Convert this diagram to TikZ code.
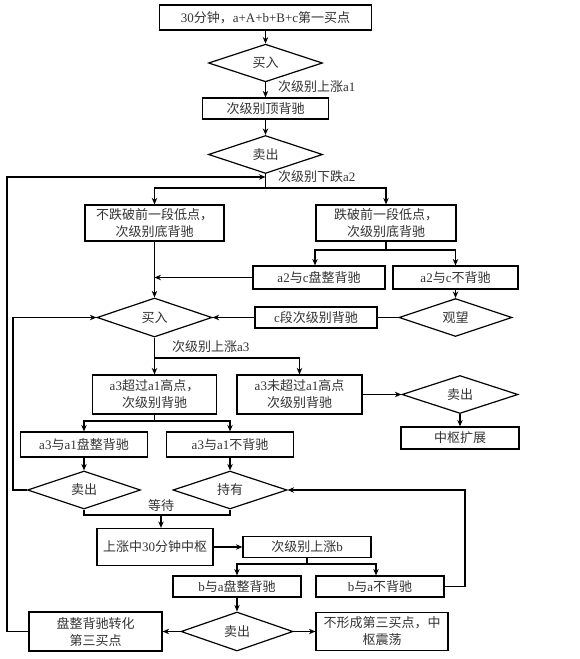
\documentclass[tikz,border=0pt]{standalone}
\usepackage{fontspec}
\setmainfont{Liberation Serif}
\newfontfamily\cjk{Noto Sans CJK SC}
\usetikzlibrary{shapes.geometric,arrows.meta}
\newcommand\zh[1]{{\cjk #1}}
\definecolor{txt}{gray}{0.2}
\begin{document}
\begin{tikzpicture}[x=1pt,y=-1pt,
  fnt/.style={font=\fontsize{13}{17}\selectfont},
  bx/.style={draw=black, line width=1.2pt, inner sep=1pt, align=center, text=txt, fnt},
  dm/.style={diamond, draw=black, line width=1.2pt, inner sep=0pt, text=txt, fnt},
  lab/.style={inner sep=0pt, text=txt, fnt},
  ar/.style={-{Stealth[length=6.5pt,width=5.5pt]}, line width=1.2pt},
  ln/.style={line width=1.2pt}]
\useasboundingbox (0,0) rectangle (580,659);
\fill[white] (0,0) rectangle (580,659);

\node[bx,minimum width=212pt,minimum height=25pt] (top) at (265.5,17.5) {30\zh{分钟，}a+A+b+B+c\zh{第一买点}};
\node[dm,minimum width=114pt,minimum height=30pt] (d1) at (265.5,63) {\zh{买入}};
\node[lab,anchor=west] (l1) at (278,87) {\zh{次级别上涨}a1};
\node[bx,minimum width=126pt,minimum height=21pt] (b2) at (265.5,108.5) {\zh{次级别顶背驰}};
\node[dm,minimum width=114pt,minimum height=31pt] (d2) at (265.5,154.5) {\zh{卖出}};
\node[lab,anchor=west] (l2) at (278,177) {\zh{次级别下跌}a2};
\node[bx,minimum width=139pt,minimum height=36pt] (bL) at (154.5,223) {\zh{不跌破前一段低点，}\\\zh{次级别底背驰}};
\node[bx,minimum width=140pt,minimum height=36pt] (bR) at (386,223) {\zh{跌破前一段低点，}\\\zh{次级别底背驰}};
\node[bx,minimum width=132pt,minimum height=23pt] (bPZ) at (319,277.5) {a2\zh{与}c\zh{盘整背驰}};
\node[bx,minimum width=125pt,minimum height=23pt] (bBB) at (455.5,277.5) {a2\zh{与}c\zh{不背驰}};
\node[dm,minimum width=115pt,minimum height=39pt] (d3) at (154.5,317.5) {\zh{买入}};
\node[bx,minimum width=122pt,minimum height=21pt] (bC) at (316,317.5) {c\zh{段次级别背驰}};
\node[dm,minimum width=113pt,minimum height=31pt] (d4) at (455.5,317.5) {\zh{观望}};
\node[lab,anchor=west] (l3) at (172,347) {\zh{次级别上涨}a3};
\node[bx,minimum width=124pt,minimum height=39pt] (bA3) at (154.5,394.5) {a3\zh{超过}a1\zh{高点，}\\\zh{次级别背驰}};
\node[bx,minimum width=125pt,minimum height=39pt] (bA3n) at (299.5,394.5) {a3\zh{未超过}a1\zh{高点}\\\zh{次级别背驰}};
\node[dm,minimum width=116pt,minimum height=33pt] (d5) at (460,394.5) {\zh{卖出}};
\node[bx,minimum width=118pt,minimum height=22pt] (bZS) at (460,438) {\zh{中枢扩展}};
\node[bx,minimum width=127pt,minimum height=25pt] (bA3p) at (84,444.5) {a3\zh{与}a1\zh{盘整背驰}};
\node[bx,minimum width=127pt,minimum height=25pt] (bA3b) at (230,444.5) {a3\zh{与}a1\zh{不背驰}};
\node[dm,minimum width=113pt,minimum height=34pt] (d6) at (84,490) {\zh{卖出}};
\node[dm,minimum width=114pt,minimum height=34pt] (d7) at (230,490) {\zh{持有}};
\node[lab] (l4) at (161,506) {\zh{等待}};
\node[bx,minimum width=116pt,minimum height=37pt] (b30) at (155,547) {\zh{上涨中}30\zh{分钟中枢}};
\node[bx,minimum width=128pt,minimum height=21pt] (bB) at (307,547) {\zh{次级别上涨}b};
\node[bx,minimum width=128pt,minimum height=21pt] (bBp) at (237,586.5) {b\zh{与}a\zh{盘整背驰}};
\node[bx,minimum width=128pt,minimum height=21pt] (bBn) at (380,586.5) {b\zh{与}a\zh{不背驰}};
\node[dm,minimum width=112pt,minimum height=39pt] (d8) at (237,631.5) {\zh{卖出}};
\node[bx,minimum width=133pt,minimum height=39pt] (b3rd) at (95.5,631.5) {\zh{盘整背驰转化}\\\zh{第三买点}};
\node[bx,minimum width=132pt,minimum height=38pt] (bZD) at (382,631.5) {\zh{不形成第三买点，中}\\\zh{枢震荡}};

\coordinate (j1) at (265.5,177);
\coordinate (j2) at (265.5,188);
\coordinate (j3) at (386,250);
\coordinate (j4) at (154.5,358);
\coordinate (j5) at (154.5,421);
\coordinate (j6) at (161,515);
\coordinate (j7) at (307,564);
\coordinate (c1) at (13,0);
\coordinate (c2) at (465,0);
\coordinate (c3) at (7,0);

\draw[ar] (top) -- (d1);
\draw[ar] (d1) -- (b2);
\draw[ar] (b2) -- (d2);
\draw[ln] (d2.south) -- (j2);
\draw[ar] (j2) -| (bL.north);
\draw[ar] (j2) -| (bR.north);
\draw[ln] (bR.south) -- (j3);
\draw[ar] (j3) -| ([xshift=-4pt]bPZ.north);
\draw[ar] (j3) -| (bBB.north);
\draw[ar] (bL) -- (d3);
\draw[ar] (bPZ.west) -- (bPZ.west -| bL.south);
\draw[ar] (bBB) -- (d4);
\draw[ln] (d4) -- (bC);
\draw[ar] (bC) -- (d3);
\draw[ar] (d3.south) -- (bA3.north);
\draw[ar] (j4) -| (bA3n.north);
\draw[ar] (bA3n) -- (d5);
\draw[ar] (d5) -- (bZS);
\draw[ln] (bA3.south) -- (j5);
\draw[ar] (j5) -| (bA3p.north);
\draw[ar] (j5) -| (bA3b.north);
\draw[ar] (bA3p) -- (d6);
\draw[ar] (bA3b) -- (d7);
\draw[ar] (d6.west) -- (d6.west -| c1) -- (d3.west -| c1) -- (d3.west);
\draw[ar] (bBn.east) -- (bBn.east -| c2) -- (d7.east -| c2) -- (d7.east);
\draw[ln] (d6.south) -- (d6.south |- j6) -- (d7.south |- j6) -- (d7.south);
\draw[ar] (j6) -- (j6 |- b30.north);
\draw[ar] (b30) -- (bB);
\draw[ln] (bB.south) -- (j7);
\draw[ar] (j7) -| (bBp.north);
\draw[ar] (j7) -| ([xshift=-4pt]bBn.north);
\draw[ar] (bBp) -- (d8);
\draw[ar] (d8) -- (b3rd);
\draw[ar] (d8) -- (bZD);
\draw[ar] (b3rd.west) -- (b3rd.west -| c3) -- (j1 -| c3) -- (j1);
\end{tikzpicture}
\end{document}
